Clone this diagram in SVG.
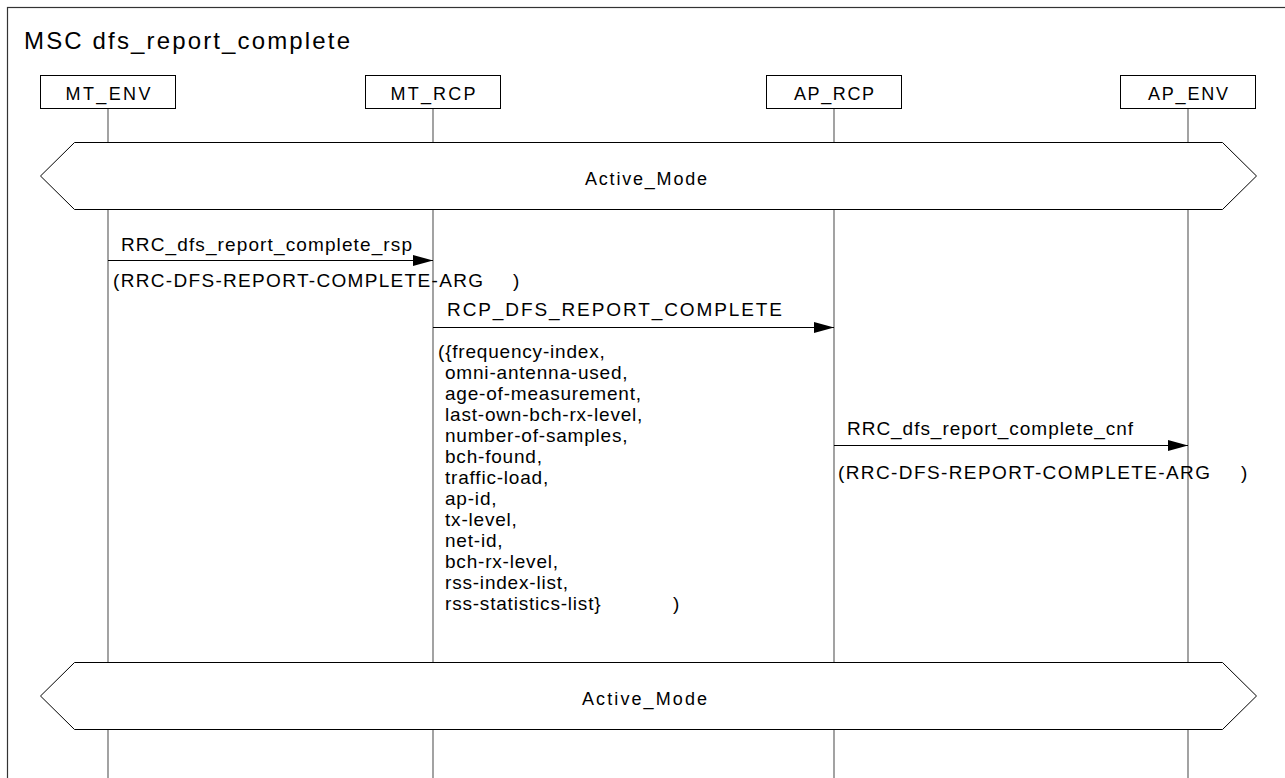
<svg xmlns="http://www.w3.org/2000/svg" width="1285" height="778" viewBox="0 0 1285 778">
  <defs>
    <style>
      text { font-family: "Liberation Sans", Arial, sans-serif; fill: #000; }
      .title { font-size: 24px; }
      .inst { font-size: 18px; text-anchor: middle; }
      .lbl { font-size: 19px; }
      .par { font-size: 19px; letter-spacing: 0.8px; }
      .cond { font-size: 18px; }
      .box { fill: #fff; stroke: #000; stroke-width: 1; }
      .hex { fill: #fff; stroke: #000; stroke-width: 1; }
      .life { stroke: #666; stroke-width: 1.2; fill: none; }
      .msg { stroke: #000; stroke-width: 1; fill: none; marker-end: url(#ah); }
      .frame { fill: #fff; stroke: #333; stroke-width: 1.2; }
    </style>
    <marker id="ah" markerWidth="20" markerHeight="11" refX="20" refY="5.5" orient="auto" markerUnits="userSpaceOnUse">
      <path d="M0,0 L20,5.5 L0,11 Z" fill="#000"/>
    </marker>
  </defs>

  <rect width="1285" height="778" fill="#fff"/>
  <!-- MSC frame (runs off the right and bottom edges) -->
  <rect class="frame" x="7.5" y="7.5" width="1290" height="790"/>
  <text class="title" x="24" y="48.5" textLength="326" lengthAdjust="spacing">MSC dfs_report_complete</text>

  <!-- lifelines -->
  <g id="lifelines">
    <path class="life" d="M108,108 V142 M108,209 V662 M108,730 V778"/>
    <path class="life" d="M433,108 V142 M433,209 V662 M433,730 V778"/>
    <path class="life" d="M834,108 V142 M834,209 V662 M834,730 V778"/>
    <path class="life" d="M1188,108 V142 M1188,209 V662 M1188,730 V778"/>
  </g>

  <g id="MT_ENV">
    <rect class="box" x="40.5" y="75.5" width="135" height="33"/>
    <text class="inst" x="108" y="100" textLength="85" lengthAdjust="spacing">MT_ENV</text>
  </g>
  <g id="MT_RCP">
    <rect class="box" x="365.5" y="75.5" width="135" height="33"/>
    <text class="inst" x="433" y="100" textLength="85" lengthAdjust="spacing">MT_RCP</text>
  </g>
  <g id="AP_RCP">
    <rect class="box" x="766.5" y="75.5" width="135" height="33"/>
    <text class="inst" x="834" y="100" textLength="80" lengthAdjust="spacing">AP_RCP</text>
  </g>
  <g id="AP_ENV">
    <rect class="box" x="1120.5" y="75.5" width="135" height="33"/>
    <text class="inst" x="1188" y="100" textLength="80" lengthAdjust="spacing">AP_ENV</text>
  </g>

  <!-- shared condition: Active_Mode -->
  <g id="cond_top">
    <polygon class="hex" points="40.5,176 74.5,142.5 1222.5,142.5 1256.5,176 1222.5,209.5 74.5,209.5"/>
    <text class="cond" x="585" y="185" textLength="122" lengthAdjust="spacing">Active_Mode</text>
  </g>
  <g id="cond_bottom">
    <polygon class="hex" points="40.5,696 74.5,662.5 1222.5,662.5 1256.5,696 1222.5,729.5 74.5,729.5"/>
    <text class="cond" x="582" y="705" textLength="125" lengthAdjust="spacing">Active_Mode</text>
  </g>

  <!-- messages -->
  <g id="connectors">
    <line class="msg" x1="108" y1="260.5" x2="433" y2="260.5"/>
    <line class="msg" x1="433" y1="327.5" x2="834" y2="327.5"/>
    <line class="msg" x1="834" y1="445.5" x2="1188" y2="445.5"/>
  </g>

  <g id="msg_rsp">
    <text class="lbl" x="121" y="251" textLength="291" lengthAdjust="spacing">RRC_dfs_report_complete_rsp</text>
    <text class="lbl" x="113" y="287" textLength="370" lengthAdjust="spacing">(RRC-DFS-REPORT-COMPLETE-ARG</text>
    <text class="lbl" x="513" y="287">)</text>
  </g>
  <g id="msg_rcp">
    <text class="lbl" x="447" y="316" textLength="335" lengthAdjust="spacing">RCP_DFS_REPORT_COMPLETE</text>
    <text class="par">
      <tspan x="438" y="358">({frequency-index,</tspan>
      <tspan x="445" dy="21">omni-antenna-used,</tspan>
      <tspan x="445" dy="21">age-of-measurement,</tspan>
      <tspan x="445" dy="21">last-own-bch-rx-level,</tspan>
      <tspan x="445" dy="21">number-of-samples,</tspan>
      <tspan x="445" dy="21">bch-found,</tspan>
      <tspan x="445" dy="21">traffic-load,</tspan>
      <tspan x="445" dy="21">ap-id,</tspan>
      <tspan x="445" dy="21">tx-level,</tspan>
      <tspan x="445" dy="21">net-id,</tspan>
      <tspan x="445" dy="21">bch-rx-level,</tspan>
      <tspan x="445" dy="21">rss-index-list,</tspan>
      <tspan x="445" dy="21">rss-statistics-list}</tspan>
    </text>
    <text class="lbl" x="673" y="610">)</text>
  </g>
  <g id="msg_cnf">
    <text class="lbl" x="847" y="435" textLength="286" lengthAdjust="spacing">RRC_dfs_report_complete_cnf</text>
    <text class="lbl" x="838" y="479" textLength="372" lengthAdjust="spacing">(RRC-DFS-REPORT-COMPLETE-ARG</text>
    <text class="lbl" x="1241" y="479">)</text>
  </g>
</svg>
